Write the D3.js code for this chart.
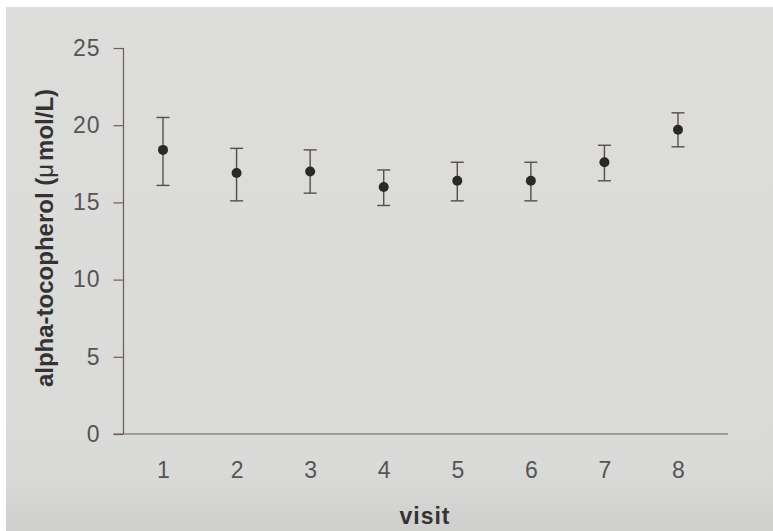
<!DOCTYPE html>
<html>
<head>
<meta charset="utf-8">
<script src="https://cdn.jsdelivr.net/npm/d3@7"></script>
<style>
  html, body { margin: 0; padding: 0; background: #ffffff; }
  svg { display: block; }
</style>
</head>
<body>
<div id="chart"></div>
<script>
// Plasma alpha-tocopherol by visit: mean with error range
const visits = [1, 2, 3, 4, 5, 6, 7, 8];
const means  = [18.4, 16.9, 17.0, 16.0, 16.4, 16.4, 17.6, 19.7];
const upper  = [20.5, 18.5, 18.4, 17.1, 17.6, 17.6, 18.7, 20.8];
const lower  = [16.1, 15.1, 15.6, 14.8, 15.1, 15.1, 16.4, 18.6];
const yTicks = [0, 5, 10, 15, 20, 25];

const W = 773, H = 531;
const svg = d3.select("#chart").append("svg")
  .attr("width", W).attr("height", H);

// paper background with a slightly darker lower edge
const defs = svg.append("defs");
const grad = defs.append("linearGradient")
  .attr("id", "paper").attr("x1", 0).attr("y1", 0).attr("x2", 0).attr("y2", 1);
grad.append("stop").attr("offset", "0%").attr("stop-color", "#dddddc");
grad.append("stop").attr("offset", "88%").attr("stop-color", "#dadad9");
grad.append("stop").attr("offset", "100%").attr("stop-color", "#cfcfce");
svg.append("rect").attr("x", 6).attr("y", 7)
  .attr("width", W - 6).attr("height", H - 7)
  .attr("fill", "url(#paper)");

const x = d3.scaleLinear().domain([1, 8]).range([163, 678]);
const y = d3.scaleLinear().domain([0, 25]).range([434, 48]);

const axisColor = "#6f5c5c";
const textColor = "#555555";
const font = "'Liberation Sans', Arial, sans-serif";

// y axis
const yAxis = svg.append("g")
  .attr("transform", "translate(123.5,0)")
  .call(d3.axisLeft(y).tickValues(yTicks).tickSize(10).tickPadding(13));
yAxis.select(".domain").attr("stroke", axisColor).attr("stroke-width", 1.2)
  .attr("d", `M0,${y(25)}V${y(0)}`);
yAxis.selectAll(".tick line").attr("stroke", axisColor).attr("stroke-width", 1.2);
yAxis.selectAll(".tick text")
  .attr("fill", textColor)
  .style("font-family", font)
  .style("font-size", "23px")
  .style("letter-spacing", "1px");

// x axis (baseline only, labels beneath)
const xAxis = svg.append("g")
  .attr("transform", `translate(0,${y(0)})`)
  .call(d3.axisBottom(x).tickValues(visits).tickSize(0).tickPadding(28).tickFormat(d3.format("d")));
xAxis.select(".domain").attr("stroke", axisColor).attr("stroke-width", 1.2)
  .attr("d", `M113.5,0H728`);
xAxis.selectAll(".tick text")
  .attr("fill", textColor)
  .style("font-family", font)
  .style("font-size", "23px");

// error bars
const barColor = "#5b4c4c";
const data = visits.map((v, i) => ({ v, m: means[i], hi: upper[i], lo: lower[i] }));
const bars = svg.append("g").attr("stroke", barColor).attr("stroke-width", 1.4);
bars.selectAll("line.stem").data(data).join("line")
  .attr("class", "stem")
  .attr("x1", d => x(d.v)).attr("x2", d => x(d.v))
  .attr("y1", d => y(d.hi)).attr("y2", d => y(d.lo));
bars.selectAll("line.capTop").data(data).join("line")
  .attr("class", "capTop")
  .attr("x1", d => x(d.v) - 6.5).attr("x2", d => x(d.v) + 6.5)
  .attr("y1", d => y(d.hi)).attr("y2", d => y(d.hi));
bars.selectAll("line.capBot").data(data).join("line")
  .attr("class", "capBot")
  .attr("x1", d => x(d.v) - 6.5).attr("x2", d => x(d.v) + 6.5)
  .attr("y1", d => y(d.lo)).attr("y2", d => y(d.lo));

// mean points
svg.append("g").selectAll("circle").data(data).join("circle")
  .attr("cx", d => x(d.v)).attr("cy", d => y(d.m))
  .attr("r", 5).attr("fill", "#2b2828");

// axis titles
const yTitle = svg.append("text")
  .attr("transform", "translate(53,238) rotate(-90)")
  .attr("text-anchor", "middle")
  .attr("fill", "#333333")
  .style("font-family", font)
  .style("font-size", "24px")
  .style("font-weight", "bold");
yTitle.append("tspan").text("alpha-tocopherol (");
yTitle.append("tspan").style("font-weight", "normal").text("\u03bc");
yTitle.append("tspan").attr("dx", 3).text("mol/L)");

svg.append("text")
  .attr("x", 425).attr("y", 524)
  .attr("text-anchor", "middle")
  .attr("fill", "#333333")
  .style("font-family", font)
  .style("font-size", "23px")
  .style("font-weight", "bold")
  .style("letter-spacing", "1px")
  .text("visit");
</script>
</body>
</html>
